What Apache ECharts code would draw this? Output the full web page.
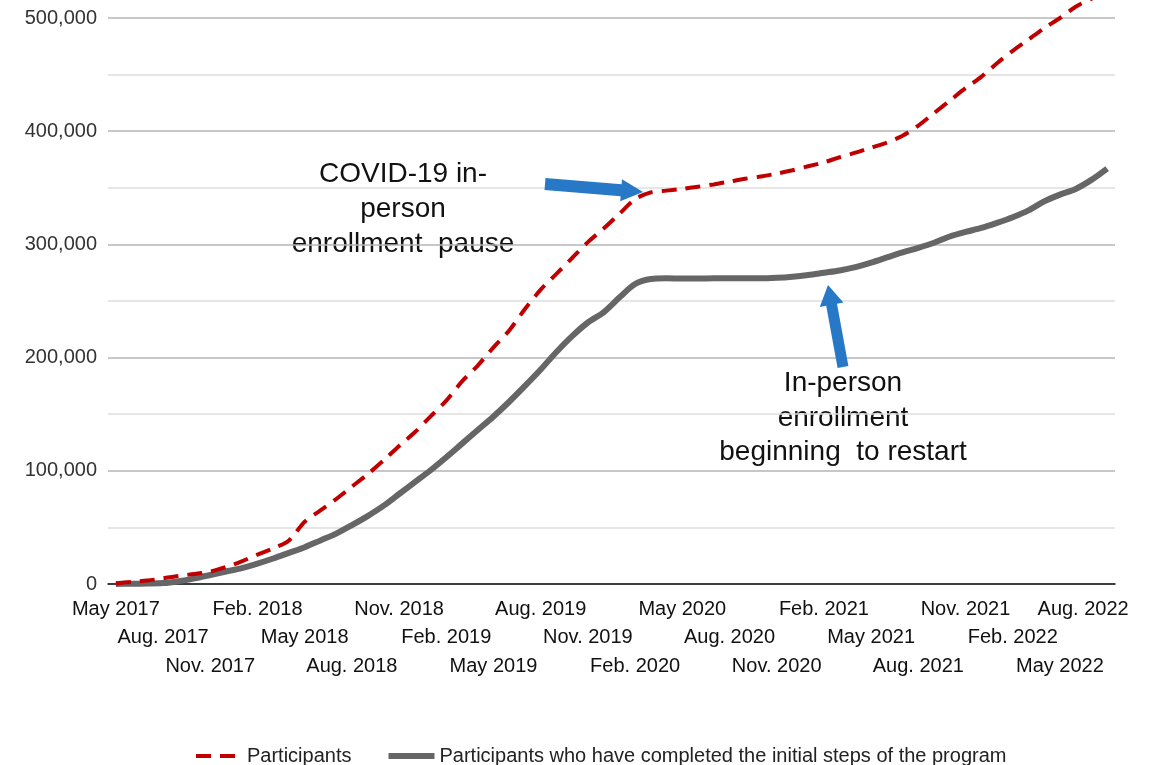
<!DOCTYPE html>
<html lang="en">
<head>
    <meta charset="UTF-8">
    <title>Participants over time</title>
    <style>
      html, body { margin: 0; padding: 0; background: #fff; }
    </style>
</head>
<body>
    <div id="chart" style="width:1155px; height:765px;"></div>

    <script src="https://cdn.jsdelivr.net/npm/echarts@6/dist/echarts.min.js"></script>
    <script type="text/javascript">
      // monthly, May 2017 .. Aug 2022
      var months = [
        'May 2017', 'Jun. 2017', 'Jul. 2017', 'Aug. 2017', 'Sep. 2017', 'Oct. 2017', 'Nov. 2017', 'Dec. 2017',
        'Jan. 2018', 'Feb. 2018', 'Mar. 2018', 'Apr. 2018', 'May 2018', 'Jun. 2018', 'Jul. 2018', 'Aug. 2018',
        'Sep. 2018', 'Oct. 2018', 'Nov. 2018', 'Dec. 2018', 'Jan. 2019', 'Feb. 2019', 'Mar. 2019', 'Apr. 2019',
        'May 2019', 'Jun. 2019', 'Jul. 2019', 'Aug. 2019', 'Sep. 2019', 'Oct. 2019', 'Nov. 2019', 'Dec. 2019',
        'Jan. 2020', 'Feb. 2020', 'Mar. 2020', 'Apr. 2020', 'May 2020', 'Jun. 2020', 'Jul. 2020', 'Aug. 2020',
        'Sep. 2020', 'Oct. 2020', 'Nov. 2020', 'Dec. 2020', 'Jan. 2021', 'Feb. 2021', 'Mar. 2021', 'Apr. 2021',
        'May 2021', 'Jun. 2021', 'Jul. 2021', 'Aug. 2021', 'Sep. 2021', 'Oct. 2021', 'Nov. 2021', 'Dec. 2021',
        'Jan. 2022', 'Feb. 2022', 'Mar. 2022', 'Apr. 2022', 'May 2022', 'Jun. 2022', 'Jul. 2022', 'Aug. 2022'
      ];

      var participants = [
        500, 1800, 3000, 5000, 7200, 8800, 11000, 15000,
        20000, 26000, 31500, 38500, 55000, 65000, 75000, 86000,
        97000, 109000, 122000, 134000, 148000, 162000, 179000, 193000,
        209000, 224000, 243000, 260000, 274000, 288000, 302000, 314000,
        327000, 340000, 346000, 347500, 349000, 351000, 353000, 355500,
        358000, 360000, 362500, 365500, 369000, 372500, 377000, 381000,
        385500, 390000, 396000, 405000, 416000, 427000, 438000, 448000,
        460000, 471000, 481000, 491000, 500000, 510000, 517000, 525000
      ];

      var completed = [
        0, 200, 400, 800, 2500, 5000, 8000, 11000,
        14000, 18000, 22500, 27500, 32500, 38500, 44500, 52000,
        60000, 69000, 79500, 90000, 100500, 112000, 124000, 136000,
        148000, 161000, 175000, 189500, 205000, 219000, 231000, 240000,
        253000, 265000, 269500, 270000, 269800, 269800, 270000, 270000,
        270000, 270000, 270500, 271500, 273000, 275000, 277000, 280000,
        284000, 288500, 293000, 297000, 301500, 307000, 311000, 314500,
        319000, 324000, 330000, 338000, 344000, 349000, 357000, 367000
      ];

      var seriesNames = ['Participants', 'Participants who have completed the initial steps of the program'];
      var yTicks = [0, 100000, 200000, 300000, 400000, 500000];

      var FONT = '"Liberation Sans", Arial, sans-serif';
      var ARROW = '#2878c8';

      // tick labels every 3 months, staggered over 3 rows
      function xAxisRow(row) {
        var axis = {
          type: 'category',
          data: months,
          boundaryGap: true,
          position: 'bottom',
          axisLine: { show: row === 0, lineStyle: { color: '#111', width: 1.5 } },
          axisTick: { show: false },
          splitLine: { show: false },
          axisLabel: {
            interval: function (index) { return index % 9 === row * 3; },
            hideOverlap: false,
            margin: 15 + row * 28.5,
            fontSize: 20,
            color: '#111',
            fontFamily: FONT,
            formatter: function (value, index) {
              return index === months.length - 1 ? '{last|' + value + '}' : value;
            },
            rich: {
              last: { fontSize: 20, color: '#111', fontFamily: FONT, padding: [0, 48, 0, 0] }
            }
          }
        };
        if (row === 0) {
          axis.axisLabel.showMinLabel = true;
          axis.axisLabel.showMaxLabel = true;
        }
        return axis;
      }

      var myChart = echarts.init(document.getElementById('chart'));

      var option = {
        animation: false,
        backgroundColor: '#fff',
        textStyle: { fontFamily: FONT },
        grid: { left: 108, right: 40, top: 18, bottom: 181, containLabel: false, outerBoundsMode: 'none' },
        legend: {
          data: seriesNames,
          left: 189,
          top: 741,
          itemWidth: 46,
          itemHeight: 18,
          itemGap: 34,
          itemStyle: { opacity: 0 },
          lineStyle: { width: 'inherit' },
          textStyle: { fontSize: 20, color: '#222', fontFamily: FONT }
        },
        xAxis: [xAxisRow(0), xAxisRow(1), xAxisRow(2)],
        yAxis: {
          type: 'value',
          min: yTicks[0],
          max: yTicks[yTicks.length - 1],
          interval: 100000,
          axisLine: { show: false },
          axisTick: { show: false },
          axisLabel: {
            margin: 11,
            fontSize: 20,
            color: '#333',
            fontFamily: FONT,
            formatter: function (v) { return v.toLocaleString('en-US'); }
          },
          splitLine: { lineStyle: { color: '#b4b4b4', width: 1.5 } },
          minorTick: { show: false, splitNumber: 2 },
          minorSplitLine: { show: true, lineStyle: { color: '#dedede', width: 1.5 } }
        },
        series: [
          {
            name: seriesNames[0],
            type: 'line',
            data: participants,
            symbol: 'none',
            smooth: 0.3,
            clip: false,
            z: 3,
            itemStyle: { color: '#c00000' },
            lineStyle: { color: '#c00000', width: 4, type: [15, 9] }
          },
          {
            name: seriesNames[1],
            type: 'line',
            data: completed,
            symbol: 'none',
            smooth: 0.3,
            z: 2,
            itemStyle: { color: '#666666' },
            lineStyle: { color: '#666666', width: 6 }
          }
        ],
        graphic: [
          {
            type: 'text',
            style: {
              text: 'COVID-19 in-\nperson\nenrollment  pause',
              x: 403, y: 209,
              textAlign: 'center',
              textVerticalAlign: 'middle',
              font: '28px ' + FONT,
              lineHeight: 35,
              fill: '#111'
            }
          },
          {
            type: 'text',
            style: {
              text: 'In-person\nenrollment\nbeginning  to restart',
              x: 843, y: 418,
              textAlign: 'center',
              textVerticalAlign: 'middle',
              font: '28px ' + FONT,
              lineHeight: 34.5,
              fill: '#111'
            }
          },
          {
            type: 'polygon',
            shape: {
              points: [[545.5, 178.0], [621.6, 184.2], [622.0, 179.2], [643, 192], [620.2, 201.2], [620.6, 196.2], [544.5, 190.0]]
            },
            style: { fill: ARROW },
            z: 10
          },
          {
            type: 'polygon',
            shape: {
              points: [[837.6, 368.0], [826.2, 305.7], [819.8, 306.9], [828, 285], [843.4, 302.5], [837.0, 303.7], [848.4, 366.0]]
            },
            style: { fill: ARROW },
            z: 10
          }
        ]
      };
      myChart.setOption(option);
    </script>
</body>
</html>
